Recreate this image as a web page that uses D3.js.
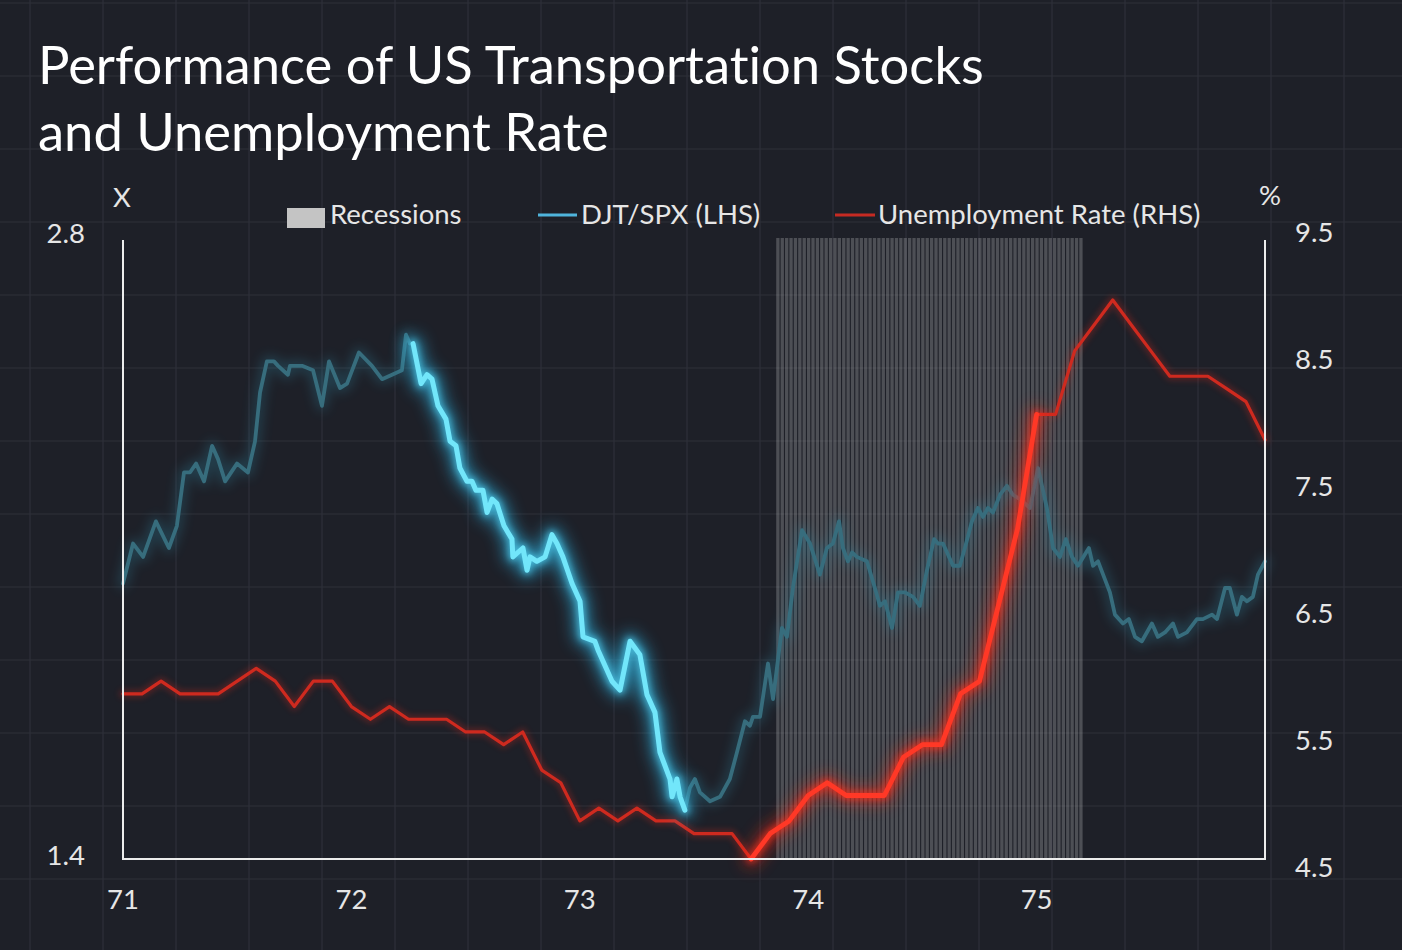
<!DOCTYPE html>
<html>
<head>
<meta charset="utf-8">
<script src="https://cdn.jsdelivr.net/npm/d3@7"></script>
<style>
  html, body { margin: 0; padding: 0; background: #1e2028; }
  svg { display: block; }
  text { font-family: Lato, "Open Sans", sans-serif; font-variant-ligatures: none; font-feature-settings: "liga" 0; }
</style>
</head>
<body>
<svg id="chart" width="1402" height="950"></svg>
<script>
// ---------------- DATA ----------------
const titleLines = ["Performance of US Transportation Stocks", "and Unemployment Rate"];
const legendLabels = ["Recessions", "DJT/SPX (LHS)", "Unemployment Rate (RHS)"];
const xTickYears = [1971, 1972, 1973, 1974, 1975];
const xTickLabels = ["71", "72", "73", "74", "75"];
const leftTicks = [1.4, 2.8];
const rightTicks = [4.5, 5.5, 6.5, 7.5, 8.5, 9.5];

// Recession period (decimal years)
const recession = [1973.86, 1975.20];

// DJT/SPX ratio (decimal year, value)
const djtYears = [
1971.000,1971.044,1971.088,1971.144,1971.201,1971.236,1971.267,1971.293,1971.320,1971.355,
1971.390,1971.416,1971.447,1971.499,1971.547,1971.578,1971.600,1971.630,1971.661,1971.679,
1971.722,1971.731,1971.762,1971.784,1971.832,1971.871,1971.902,1971.950,1971.981,1972.033,
1972.090,1972.134,1972.178,1972.221,1972.239,1972.256,1972.270,1972.305,1972.331,1972.353,
1972.379,1972.414,1972.432,1972.458,1972.475,1972.506,1972.528,1972.545,1972.576,1972.594,
1972.616,1972.637,1972.668,1972.703,1972.707,1972.751,1972.769,1972.782,1972.812,1972.848,
1972.878,1972.900,1972.926,1972.966,1973.001,1973.014,1973.066,1973.080,1973.141,1973.176,
1973.220,1973.263,1973.294,1973.329,1973.351,1973.395,1973.404,1973.425,1973.439,1973.460,
1973.482,1973.504,1973.526,1973.570,1973.614,1973.657,1973.688,1973.723,1973.745,1973.758,
1973.789,1973.824,1973.846,1973.885,1973.907,1973.933,1973.973,1974.008,1974.051,1974.082,
1974.108,1974.135,1974.152,1974.174,1974.192,1974.213,1974.257,1974.292,1974.314,1974.336,
1974.367,1974.393,1974.424,1974.459,1974.489,1974.520,1974.551,1974.568,1974.590,1974.634,
1974.664,1974.686,1974.717,1974.743,1974.765,1974.787,1974.809,1974.840,1974.870,1974.896,
1974.927,1974.971,1975.006,1975.045,1975.072,1975.102,1975.128,1975.155,1975.181,1975.229,
1975.247,1975.269,1975.321,1975.343,1975.378,1975.404,1975.431,1975.461,1975.505,1975.531,
1975.562,1975.597,1975.619,1975.658,1975.702,1975.728,1975.768,1975.790,1975.825,1975.846,
1975.877,1975.899,1975.921,1975.947,1975.969,1976.000];
const djtRatio = [
2.02,2.11,2.08,2.16,2.10,2.15,2.27,2.27,2.29,2.25,
2.33,2.30,2.25,2.29,2.27,2.34,2.45,2.52,2.52,2.51,
2.49,2.51,2.51,2.51,2.50,2.42,2.52,2.46,2.47,2.54,
2.51,2.48,2.49,2.50,2.58,2.56,2.56,2.47,2.49,2.48,
2.42,2.39,2.34,2.33,2.28,2.25,2.25,2.23,2.23,2.18,
2.21,2.20,2.15,2.12,2.08,2.10,2.05,2.08,2.07,2.08,
2.13,2.11,2.08,2.02,1.98,1.90,1.89,1.87,1.80,1.78,
1.89,1.86,1.77,1.73,1.64,1.58,1.54,1.58,1.54,1.51,
1.56,1.58,1.55,1.53,1.54,1.58,1.64,1.71,1.70,1.72,
1.72,1.84,1.76,1.92,1.90,2.01,2.14,2.11,2.04,2.10,
2.11,2.16,2.10,2.07,2.09,2.08,2.07,2.01,1.97,1.98,
1.92,2.00,2.00,1.99,1.97,2.05,2.12,2.11,2.11,2.06,
2.06,2.10,2.16,2.19,2.17,2.19,2.18,2.22,2.24,2.22,
2.21,2.19,2.28,2.19,2.10,2.08,2.12,2.08,2.06,2.10,
2.06,2.07,2.00,1.95,1.93,1.94,1.90,1.89,1.93,1.90,
1.91,1.93,1.90,1.91,1.94,1.94,1.95,1.94,2.01,2.01,
1.95,1.99,1.98,1.99,2.04,2.07];
const djtHighlight = [1972.265, 1973.461];

// Unemployment rate, monthly from Jan 1971 to Jan 1976
const unempStart = 1971;
const unempRate = [
5.9,5.9,6.0,5.9,5.9,5.9,6.0,6.1,6.0,5.8,6.0,6.0,
5.8,5.7,5.8,5.7,5.7,5.7,5.6,5.6,5.5,5.6,5.3,5.2,
4.9,5.0,4.9,5.0,4.9,4.9,4.8,4.8,4.8,4.6,4.8,4.9,
5.1,5.2,5.1,5.1,5.1,5.4,5.5,5.5,5.9,6.0,6.6,7.2,
8.1,8.1,8.6,8.8,9.0,8.8,8.6,8.4,8.4,8.4,8.3,8.2,
7.9];
const unempHighlight = [1973.74, 1975.0];

// ---------------- LAYOUT ----------------
const W = 1402, H = 950;
const plotL = 123, plotR = 1265, plotT = 240, plotB = 859;

const svg = d3.select("#chart");

const x = d3.scaleLinear().domain([1971, 1976]).range([plotL, plotR]);
const yL = d3.scaleLinear().domain([1.4, 2.8]).range([plotB, 237]);
const yR = d3.scaleLinear().domain([4.5, 9.5]).range([871.7, 236.5]);

// defs / filters
const defs = svg.append("defs");
function blurFilter(id, sd) {
  const f = defs.append("filter").attr("id", id)
    .attr("x", "-10%").attr("y", "-10%").attr("width", "120%").attr("height", "120%");
  f.append("feGaussianBlur").attr("stdDeviation", sd);
}
blurFilter("blur8", 8);
blurFilter("blur6", 6);
blurFilter("blur4", 4);
blurFilter("blur3", 3);

// background
svg.append("rect").attr("width", W).attr("height", H).attr("fill", "#1e2028");

// background grid
const gridG = svg.append("g").attr("stroke", "#2e3039").attr("stroke-width", 1.2);
d3.range(30, W, 73).forEach(gx => {
  gridG.append("line").attr("x1", gx).attr("x2", gx).attr("y1", 0).attr("y2", H);
});
d3.range(3, H, 73).forEach(gy => {
  gridG.append("line").attr("x1", 0).attr("x2", W).attr("y1", gy).attr("y2", gy);
});

// recession band: weekly stripes
const weeks = d3.range(recession[0], recession[1], 1 / 52);
const weekW = x(1971 + 1 / 52) - x(1971);
svg.append("g").selectAll("rect").data(weeks).join("rect")
  .attr("x", d => x(d))
  .attr("y", plotT - 2)
  .attr("width", Math.max(1, weekW - 1.1))
  .attr("height", plotB - plotT + 2)
  .attr("fill", "#ffffff")
  .attr("fill-opacity", 0.21);

// ---------------- LINES ----------------
const djt = djtYears.map((t, i) => ({ t, v: djtRatio[i] }));
const unemp = unempRate.map((v, i) => ({ t: unempStart + i / 12, v }));

const lineL = d3.line().x(d => x(d.t)).y(d => yL(d.v));
const lineR = d3.line().x(d => x(d.t)).y(d => yR(d.v));

const djtHi = djt.filter(d => d.t >= djtHighlight[0] && d.t <= djtHighlight[1]);
const unHi = unemp.filter(d => d.t >= unempHighlight[0] && d.t <= unempHighlight[1] + 0.001);

const linesG = svg.append("g").attr("fill", "none")
  .attr("stroke-linejoin", "round").attr("stroke-linecap", "round");

// dim DJT line with faint glow
linesG.append("path").datum(djt).attr("d", lineL)
  .attr("stroke", "#2d8aa6").attr("stroke-width", 10).attr("opacity", 0.3)
  .attr("filter", "url(#blur6)");
linesG.append("path").datum(djt).attr("d", lineL)
  .attr("stroke", "#376d7d").attr("stroke-width", 3.8);

// red line normal
linesG.append("path").datum(unemp).attr("d", lineR)
  .attr("stroke", "#d0281c").attr("stroke-width", 7).attr("opacity", 0.35)
  .attr("filter", "url(#blur3)");
linesG.append("path").datum(unemp).attr("d", lineR)
  .attr("stroke", "#cf2a1f").attr("stroke-width", 3.2);

// red highlight glow
linesG.append("path").datum(unHi).attr("d", lineR)
  .attr("stroke", "#ff2a18").attr("stroke-width", 16).attr("opacity", 0.5)
  .attr("filter", "url(#blur8)");
linesG.append("path").datum(unHi).attr("d", lineR)
  .attr("stroke", "#ff3020").attr("stroke-width", 7).attr("opacity", 0.5)
  .attr("filter", "url(#blur3)");
linesG.append("path").datum(unHi).attr("d", lineR)
  .attr("stroke", "#ff3826").attr("stroke-width", 4.8);

// bright DJT highlight
linesG.append("path").datum(djtHi).attr("d", lineL)
  .attr("stroke", "#2fb6e6").attr("stroke-width", 18).attr("opacity", 0.55)
  .attr("filter", "url(#blur8)");
linesG.append("path").datum(djtHi).attr("d", lineL)
  .attr("stroke", "#52d6f5").attr("stroke-width", 8).attr("opacity", 0.65)
  .attr("filter", "url(#blur3)");
linesG.append("path").datum(djtHi).attr("d", lineL)
  .attr("stroke", "#72e6fa").attr("stroke-width", 5);

// ---------------- AXES ----------------
const axisG = svg.append("g").attr("stroke", "#ececec").attr("stroke-width", 2).attr("fill", "none");
axisG.append("line").attr("x1", plotL).attr("x2", plotL).attr("y1", plotT).attr("y2", plotB);
axisG.append("line").attr("x1", plotR).attr("x2", plotR).attr("y1", plotT).attr("y2", plotB);
axisG.append("line").attr("x1", plotL - 1).attr("x2", plotR + 1).attr("y1", plotB).attr("y2", plotB);

const tickFont = 27.5;
const labelColor = "#e6e6e6";
svg.append("g").selectAll("text").data(xTickYears).join("text")
  .attr("x", d => x(d)).attr("y", 909)
  .attr("text-anchor", "middle").attr("font-size", tickFont).attr("fill", labelColor)
  .text((d, i) => xTickLabels[i]);

svg.append("g").selectAll("text").data(leftTicks).join("text")
  .attr("x", 85).attr("y", d => yL(d) + 5.5)
  .attr("text-anchor", "end").attr("font-size", tickFont).attr("fill", labelColor)
  .text(d => d.toFixed(1));

svg.append("g").selectAll("text").data(rightTicks).join("text")
  .attr("x", 1295).attr("y", d => yR(d) + 5.5)
  .attr("text-anchor", "start").attr("font-size", tickFont).attr("fill", labelColor)
  .text(d => d.toFixed(1));

svg.append("text").attr("x", 122).attr("y", 207).attr("text-anchor", "middle")
  .attr("font-size", tickFont).attr("fill", labelColor).text("X");
svg.append("text").attr("x", 1270).attr("y", 205).attr("text-anchor", "middle")
  .attr("font-size", tickFont).attr("fill", labelColor).text("%");

// ---------------- LEGEND ----------------
const legFont = 27.5;
const legG = svg.append("g");
legG.append("rect").attr("x", 287).attr("y", 208).attr("width", 38).attr("height", 20).attr("fill", "#c4c4c4");
legG.append("text").attr("x", 330).attr("y", 224).attr("font-size", legFont).attr("fill", labelColor).text(legendLabels[0]);
legG.append("line").attr("x1", 538).attr("x2", 577).attr("y1", 215).attr("y2", 215)
  .attr("stroke", "#4fb4dc").attr("stroke-width", 3);
legG.append("text").attr("x", 581).attr("y", 224).attr("font-size", legFont).attr("fill", labelColor).text(legendLabels[1]);
legG.append("line").attr("x1", 835).attr("x2", 875).attr("y1", 215).attr("y2", 215)
  .attr("stroke", "#c52a22").attr("stroke-width", 3);
legG.append("text").attr("x", 878).attr("y", 224).attr("font-size", legFont).attr("fill", labelColor).text(legendLabels[2]);

// ---------------- TITLE ----------------
svg.append("g").selectAll("text").data(titleLines).join("text")
  .attr("x", 38).attr("y", (d, i) => 84 + i * 67)
  .attr("font-size", 52.5).attr("fill", "#ffffff").attr("font-weight", 400)
  .text(d => d);
</script>
</body>
</html>
